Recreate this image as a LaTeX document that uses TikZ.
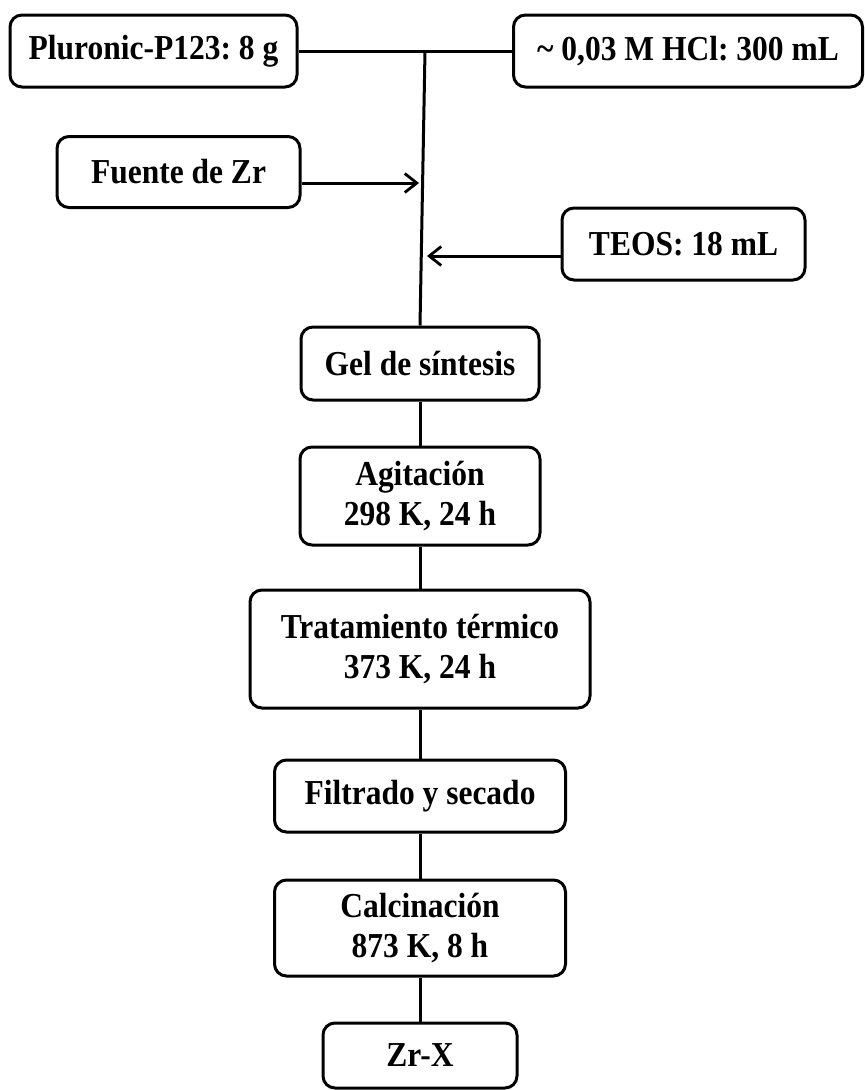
\documentclass[tikz,border=0pt]{standalone}
\usepackage{fontspec}
\setmainfont{Liberation Serif}[FakeStretch=0.9]
\usetikzlibrary{arrows.meta}
\frenchspacing
\tikzset{
  box/.style={draw=black, line width=3pt, rounded corners=12pt, fill=white,
    inner sep=0pt, align=center, font=\fontsize{35}{40}\selectfont\bfseries},
  link/.style={line width=3pt},
  feed/.style={line width=3pt, -{Straight Barb[length=12pt,width=19pt,line width=2.8pt]}}
}
\begin{document}
\begin{tikzpicture}[x=1pt,y=-1pt]
\useasboundingbox (0,0) rectangle (865,1090);
\node[box, minimum width=287pt, minimum height=72pt] (plu) at (153.5,51) {Pluronic-P123: 8 g};
\node[box, minimum width=349pt, minimum height=72pt] (hcl) at (688,51) {\char`\~{} 0,03 M HCl: 300 mL};
\node[box, minimum width=243pt, minimum height=71pt] (fz) at (178.5,172) {Fuente de Zr};
\node[box, minimum width=243pt, minimum height=72pt] (teos) at (683.5,244) {TEOS: 18 mL};
\node[box, minimum width=238pt, minimum height=73pt] (gel) at (420,363.5) {Gel de síntesis};
\node[box, minimum width=240pt, minimum height=98pt] (agit) at (420,496) {Agitación\\298 K, 24 h};
\node[box, minimum width=340pt, minimum height=118pt] (trat) at (420,649) {Tratamiento térmico\\373 K, 24 h};
\node[box, minimum width=291pt, minimum height=72pt] (filt) at (420,796) {Filtrado y secado};
\node[box, minimum width=291pt, minimum height=96pt] (calc) at (420,928) {Calcinación\\873 K, 8 h};
\node[box, minimum width=194pt, minimum height=65pt] (zrx) at (420,1055.5) {Zr-X};
\coordinate (j) at (425,51);
\coordinate (fzin) at (419,183);
\coordinate (teosin) at (427,256);
\draw[link] (plu.east) -- (hcl.west);
\draw[link] (j) -- (gel.north);
\draw[feed] (fz.east |- fzin) -- (fzin);
\draw[feed] (teos.west |- teosin) -- (teosin);
\draw[link] (gel.south) -- (agit.north);
\draw[link] (agit.south) -- (trat.north);
\draw[link] (trat.south) -- (filt.north);
\draw[link] (filt.south) -- (calc.north);
\draw[link] (calc.south) -- (zrx.north);
\end{tikzpicture}
\end{document}
